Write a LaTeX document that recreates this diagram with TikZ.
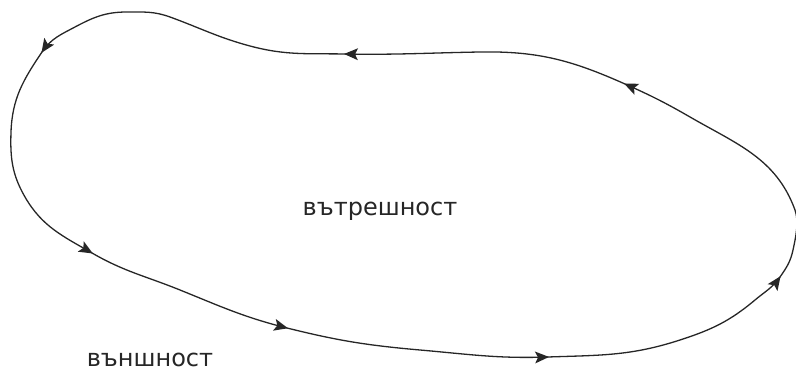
\documentclass[tikz,border=0pt]{standalone}
\usepackage{fontspec}
\setmainfont{DejaVu Sans}
\tikzset{
  boundary/.style={line width=1.3pt, draw=black!85},
  headtip/.pic={\fill[black!85] (1,0) -- (-13,6) -- (-10,0) -- (-13,-6) -- cycle;},
  label/.style={font=\fontsize{24pt}{24pt}\selectfont, text=black!85, inner sep=0pt, anchor=base}
}
\begin{document}
\begin{tikzpicture}[x=1pt,y=1pt]
  \useasboundingbox (0,0) rectangle (796,372);
  % points along the closed curve
  \coordinate (a)  at (480,320);
  \coordinate (b)  at (345,318);
  \coordinate (c)  at (250,326);
  \coordinate (d)  at (170,355);
  \coordinate (e)  at (127,360);
  \coordinate (f)  at (75,345);
  \coordinate (g)  at (42,320);
  \coordinate (i)  at (11,240);
  \coordinate (j)  at (25,175);
  \coordinate (k)  at (92,119);
  \coordinate (l)  at (180,82);
  \coordinate (m)  at (287,44);
  \coordinate (n)  at (420,22);
  \coordinate (o)  at (548,15);
  \coordinate (p)  at (680,32);
  \coordinate (q)  at (755,72);
  \coordinate (r)  at (780,95);
  \coordinate (s2) at (793,122);
  \coordinate (s)  at (795,162);
  \coordinate (u)  at (690,255);
  \coordinate (v)  at (625,288);
  % the curve
  \draw[boundary]
    (a) to[out=181,in=-1] (b) to[out=179,in=-15] (c) to[out=165,in=-20] (d)
        to[out=160,in=0] (e) to[out=180,in=28] (f) to[out=208,in=56] (g)
        to[out=236,in=88] (i) to[out=268,in=120] (j) to[out=300,in=150] (k)
        to[out=330,in=158] (l) to[out=338,in=166] (m)
        to[out=346,in=175] (n) to[out=355,in=182] (o) to[out=2,in=198] (p)
        to[out=18,in=220] (q) to[out=40,in=235] (r) to[out=55,in=258] (s2)
        to[out=78,in=-70,looseness=0.8] (s) to[out=110,in=-30] (u)
        to[out=150,in=-24] (v) to[out=156,in=1] (a);
  % direction marks
  \pic[rotate=179] at (b) {headtip};
  \pic[rotate=236] at (g) {headtip};
  \pic[rotate=330] at (k) {headtip};
  \pic[rotate=346] at (m) {headtip};
  \pic[rotate=2]   at (o) {headtip};
  \pic[rotate=55]  at (r) {headtip};
  \pic[rotate=156] at (v) {headtip};
  % labels
  \node[label] (inner) at (380,156) {вътрешност};
  \node[label] (outer) at (150,5) {външност};
\end{tikzpicture}
\end{document}
